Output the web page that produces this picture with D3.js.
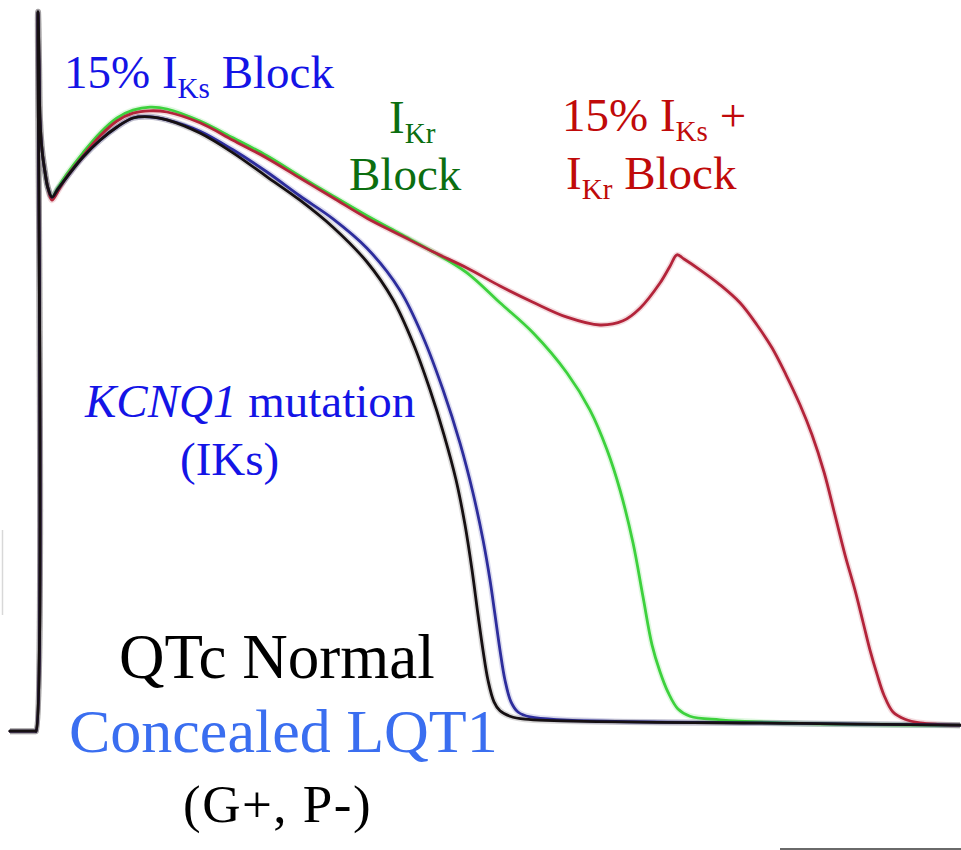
<!DOCTYPE html>
<html>
<head>
<meta charset="utf-8">
<script src="https://cdn.jsdelivr.net/npm/d3@7/dist/d3.min.js"></script>
<style>
  html, body { margin: 0; padding: 0; background: #fff; }
  svg { display: block; }
  text { font-family: "Liberation Serif", "Times New Roman", serif; }
</style>
</head>
<body>
<svg id="chart" width="961" height="850"></svg>
<script>
// Simulated ventricular action potentials: time (ms) vs membrane voltage (mV)

// Shared upstroke and early repolarisation notch
const upstroke = [[0,-88.2],[12.5,-88.2],[13,-88.2],[14,31.7],[14.5,23.7],[15,13.7],[16,8.7],[17.5,5.0],[19,2.3]];

// QTc normal (baseline)
const normalAP = [[21,0.8],[24,2.2],[28.5,4.2],[36.5,7.5],[45,10.3],[53.5,12.5],[61.5,14.0],[70,14.2],[78.5,13.7],
  [95,11.5],[111.5,8.2],[128.5,4.2],[145,0.3],[161.5,-4.2],[178.5,-10],[191.5,-16.3],[201.5,-23.5],[210,-31.3],
  [217,-38.8],[223,-46.3],[227.5,-53.8],[231,-61.3],[234,-68.8],[236.5,-74.7],[239,-79.7],[242,-83.3],
  [245,-84.8],[250,-85.7],[257.5,-86.2],[395,-86.9],[475,-87.2]];

// 15% IKs block
const iksBlockAP = [[21,0.8],[24,2.2],[28.5,4.2],[36.5,7.5],[45,10.3],[53.5,12.5],[61.5,14.0],[70,14.2],[78.5,13.7],
  [95,11.8],[111.5,8.7],[128.5,5.0],[145,1.0],[161.5,-2.8],[178.5,-7.7],[195,-14.7],[206.5,-22.5],[216.5,-31.3],
  [225,-40.2],[231.5,-48.5],[236.5,-56.3],[240,-63],[242.5,-68.8],[245,-74.7],[247.5,-79.7],[250.5,-83.3],
  [254,-85],[260,-85.8],[395,-86.9],[475,-87.2]];

// IKr block
const ikrBlockAP = [[21,0.8],[24,2.4],[28.5,4.7],[36.5,8.2],[45,11.5],[53.5,14.0],[61.5,15.3],[70,15.8],[78.5,15.5],
  [95,13.5],[111.5,10.7],[128.5,7.7],[145,4.3],[161.5,1.0],[178.5,-2.3],[195,-5.3],[211.5,-8.3],[228.5,-11.8],
  [245,-16.8],[261.5,-21.8],[278.5,-28.5],[290,-34.7],[298.5,-41.3],[305,-48],[311.5,-56.8],[316.5,-65.8],
  [321,-73.8],[325,-78.3],[329,-81.7],[334,-84.5],[340,-85.7],[355,-86.3],[395,-86.9],[475,-87.2]];

// 15% IKs + IKr block (with early afterdepolarisation)
const combinedBlockAP = [[21,0.3],[24,1.8],[28.5,4.3],[36.5,7.7],[45,11.0],[53.5,13.5],[61.5,14.8],[70,15.2],[78.5,15.0],
  [95,13.2],[111.5,10.3],[128.5,7.3],[145,4.0],[161.5,0.7],[178.5,-2.7],[195,-5.5],[211.5,-8.3],[228.5,-11],
  [245,-14],[261.5,-16.7],[278.5,-19.2],[295,-20.5],[306.5,-19.8],[315,-17.7],[325,-13.5],[330,-10.7],[333.5,-8.8],
  [337,-9.5],[345,-11.3],[355,-13.8],[365,-16.8],[373.5,-20.5],[381,-24.3],[388,-28.8],[395,-33.8],[401,-38.8],
  [407,-45],[412.5,-52.2],[417.5,-58.8],[422.5,-64.7],[426.5,-70],[430,-74.7],[433.5,-78.7],[437,-82.2],
  [441.5,-85],[447.5,-86.2],[455,-86.8],[475,-87.2]];

const series = [
  { name: "IKr block",         color: "#3dd13d", points: upstroke.concat(ikrBlockAP) },
  { name: "IKs + IKr block",   color: "#b3243a", points: upstroke.concat(combinedBlockAP) },
  { name: "15% IKs block",     color: "#2d2d9c", points: upstroke.concat(iksBlockAP) },
  { name: "QTc normal",        color: "#161012", points: upstroke.concat(normalAP) }
];

const svg = d3.select("#chart");
const x = d3.scaleLinear().domain([0, 475]).range([10, 960]);
const y = d3.scaleLinear().domain([-86, 30]).range([718, 22]);

const line = d3.line()
  .x(d => x(d[0]))
  .y(d => y(d[1]))
  .curve(d3.curveCatmullRom.alpha(0.5));

// soft halo under each trace
svg.append("g").selectAll("path.halo")
  .data(series).join("path")
  .attr("class", "halo")
  .attr("d", d => line(d.points))
  .attr("fill", "none")
  .attr("stroke", d => d.color)
  .attr("stroke-opacity", 0.16)
  .attr("stroke-width", 6)
  .attr("stroke-linejoin", "round");

svg.append("g").selectAll("path.trace")
  .data(series).join("path")
  .attr("class", "trace")
  .attr("d", d => line(d.points))
  .attr("fill", "none")
  .attr("stroke", d => d.color)
  .attr("stroke-width", 2.8)
  .attr("stroke-linejoin", "round")
  .attr("stroke-linecap", "round");

// Annotations
function label(parts, xPos, yPos, size, color, spacing) {
  const t = svg.append("text")
    .attr("x", xPos).attr("y", yPos)
    .attr("font-size", size)
    .attr("fill", color);
  if (spacing) t.attr("letter-spacing", spacing);
  parts.forEach(p => {
    const ts = t.append("tspan").text(p.text);
    if (p.sub) ts.attr("font-size", size * 0.62).attr("dy", size * 0.22);
    if (p.up) ts.attr("dy", -size * 0.22);
    if (p.italic) ts.attr("font-style", "italic");
  });
  return t;
}

label([{text: "15% I"}, {text: "Ks", sub: true}, {text: " Block", up: true}], 64, 88, 47, "#1414e6");
label([{text: "I"}, {text: "Kr", sub: true}], 389, 133, 47, "#0b6e10");
label([{text: "Block"}], 349, 190, 47, "#0b6e10");
label([{text: "15% I"}, {text: "Ks", sub: true}, {text: " +", up: true}], 562, 131, 47, "#c00a0a");
label([{text: "I"}, {text: "Kr", sub: true}, {text: " Block", up: true}], 566, 189, 47, "#c00a0a");
label([{text: "KCNQ1", italic: true}, {text: " mutation"}], 85, 417, 47, "#1414e6");
label([{text: "(IKs)"}], 180, 475, 47, "#1414e6");
label([{text: "QTc Normal"}], 119, 678, 63, "#000000");
label([{text: "Concealed LQT1"}], 69, 752, 62, "#3a6ef0");
label([{text: "(G+, P-)"}], 183, 822, 53, "#000000", 1.5);

// scale bar stub at the lower right
svg.append("line")
  .attr("x1", 780).attr("x2", 961)
  .attr("y1", 849).attr("y2", 849)
  .attr("stroke", "#6a6a6a").attr("stroke-width", 2);

// faint frame remnant along the left edge
svg.append("line")
  .attr("x1", 2.5).attr("x2", 2.5)
  .attr("y1", 530).attr("y2", 615)
  .attr("stroke", "#d8d8d8").attr("stroke-width", 1.5);
</script>
</body>
</html>
